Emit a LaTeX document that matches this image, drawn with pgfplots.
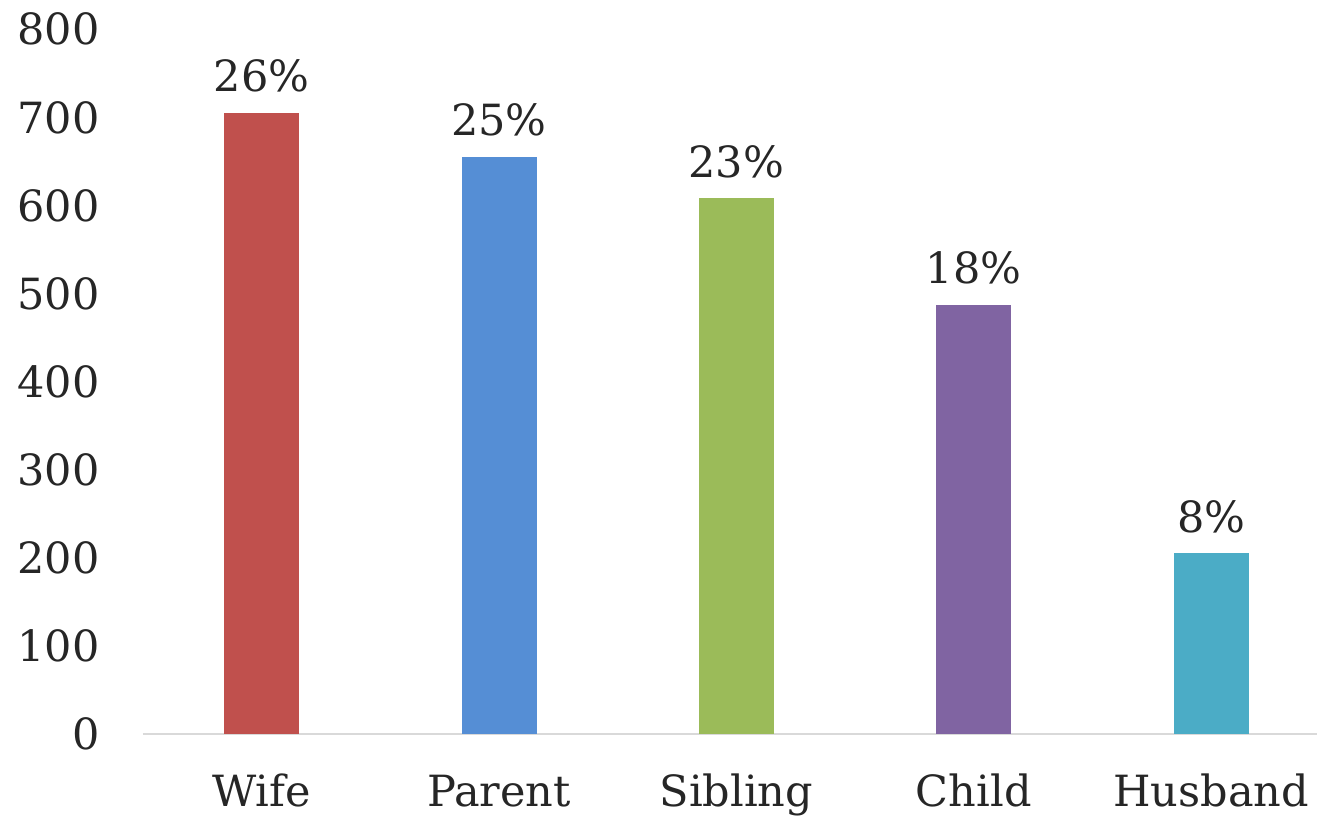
\documentclass[border=0pt]{standalone}
\usepackage{fontspec}
\setmainfont{DejaVu Serif}
\usepackage{pgfplots}
\pgfplotsset{compat=1.18}
\definecolor{txt}{HTML}{262626}
\definecolor{axgray}{HTML}{D9D9D9}
\definecolor{cwife}{HTML}{C0504D}
\definecolor{cparent}{HTML}{558ED5}
\definecolor{csib}{HTML}{9BBB59}
\definecolor{cchild}{HTML}{8064A2}
\definecolor{chus}{HTML}{4BACC6}
\begin{document}
\begin{tikzpicture}
\begin{axis}[
  name=ax,
  scale only axis,
  width=587pt, height=352.5pt,
  xmin=-0.5, xmax=4.446,
  ymin=0, ymax=800,
  axis x line*=bottom, axis y line*=left,
  x axis line style={draw=axgray, line width=1pt},
  y axis line style={draw=none},
  tick style={draw=none},
  major tick length=0pt,
  xtick={0,1,2,3,4},
  xticklabels={Wife,Parent,Sibling,Child,Husband},
  ytick={0,100,...,800},
  /pgf/number format/assume math mode=true,
  /pgf/number format/1000 sep={},
  xticklabel style={anchor=base, inner sep=0pt, yshift=-36.5pt, font=\fontsize{21.5}{26}\selectfont, text=txt},
  yticklabel style={anchor=base east, inner sep=0pt, xshift=-21.5pt, yshift=-8pt, font=\fontsize{21.5}{26}\selectfont, text=txt},
  ybar, bar width=37.5pt,
  nodes near coords,
  point meta=explicit symbolic,
  every node near coord/.append style={anchor=base, inner sep=0pt, yshift=10.5pt, font=\fontsize{21.5}{26}\selectfont, text=txt},
  clip=false,
]
\addplot[fill=cwife, draw=none, bar shift=0pt] coordinates {(0,705) [26\%]};
\addplot[fill=cparent, draw=none, bar shift=0pt] coordinates {(1,655) [25\%]};
\addplot[fill=csib, draw=none, bar shift=0pt] coordinates {(2,608) [23\%]};
\addplot[fill=cchild, draw=none, bar shift=0pt] coordinates {(3,487) [18\%]};
\addplot[fill=chus, draw=none, bar shift=0pt] coordinates {(4,205) [8\%]};
\end{axis}
\pgfresetboundingbox
\path[use as bounding box] ([xshift=-71.5pt,yshift=-42pt]ax.south west) rectangle ([yshift=14.5pt]ax.north east);
\end{tikzpicture}
\end{document}
